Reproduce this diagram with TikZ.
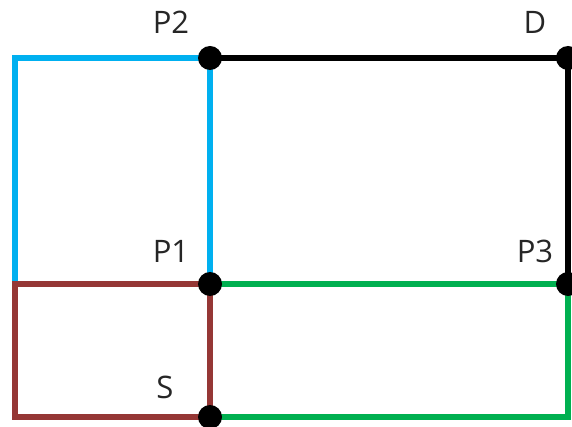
\documentclass[tikz,border=0pt]{standalone}
\usepackage{fontspec}
\setmainfont{Open Sans}
\definecolor{cblue}{HTML}{00B0F0}
\definecolor{cbrown}{HTML}{953735}
\definecolor{cgreen}{HTML}{00B050}
\begin{document}
\begin{tikzpicture}[x=1pt,y=-1pt,
  dot/.style={circle,fill=black,inner sep=0pt,minimum size=24pt},
  lab/.style={anchor=base,font=\fontsize{31}{31}\selectfont,text=black!85,inner sep=0pt},
  edge/.style={line width=5.6pt}]
\useasboundingbox (0,0) rectangle (572,427);
\coordinate (TL) at (15,58);
\coordinate (ML) at (15,284);
\coordinate (BL) at (15,417);
\coordinate (P2) at (210,58);
\coordinate (D) at (568,58);
\coordinate (P1) at (210,284);
\coordinate (P3) at (568,284);
\coordinate (S) at (210,417);
\coordinate (BR) at (568,417);
\draw[edge,cblue] (ML) -- (TL) -- (P2) -- (P1);
\draw[edge,cbrown] (ML) -- (P1) -- (S) -- (BL) -- cycle;
\draw[edge,black] (P2) -- (D) -- (P3);
\draw[edge,cgreen] (P1) -- (P3) -- (BR) -- (S);
\node[dot] (dP2) at (P2) {};
\node[dot] (dD) at (D) {};
\node[dot] (dP1) at (P1) {};
\node[dot] (dP3) at (P3) {};
\node[dot] (dS) at (S) {};
\node[lab] (lP2) at (171,34) {P2};
\node[lab] (lD) at (535,34) {D};
\node[lab] (lP1) at (171,263) {P1};
\node[lab] (lP3) at (535,263) {P3};
\node[lab] (lS) at (165,398) {S};
\end{tikzpicture}
\end{document}
